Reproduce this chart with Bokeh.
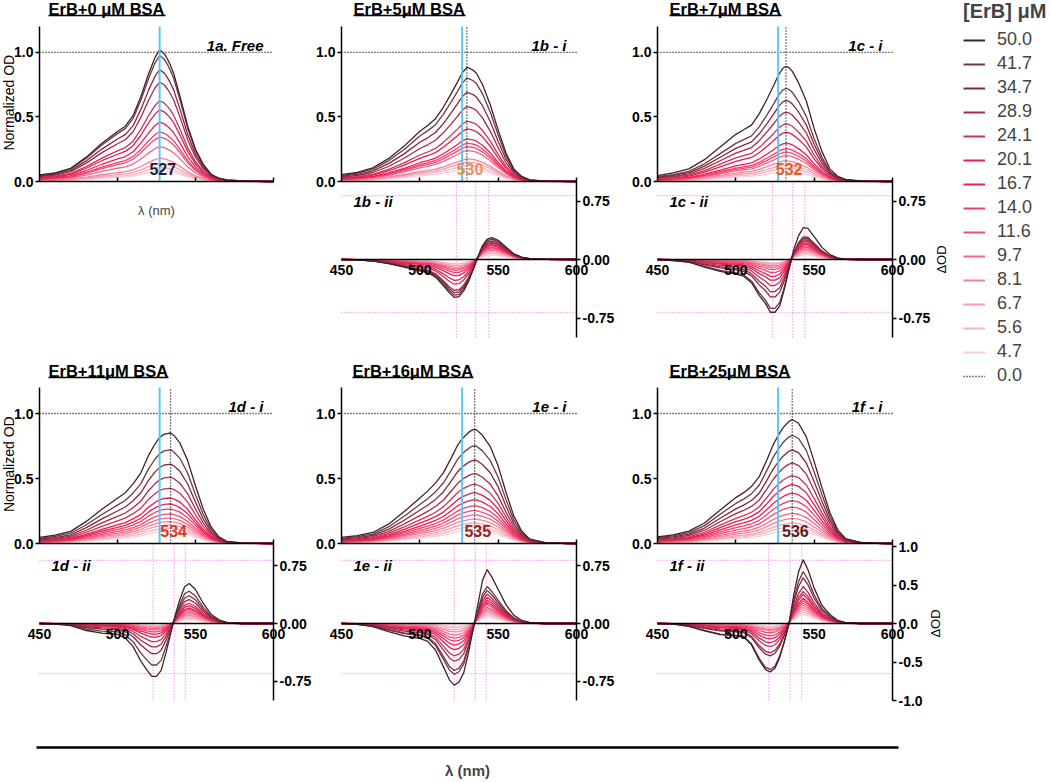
import math
from bokeh.plotting import figure
from bokeh.models import (Range1d, FixedTicker, NumeralTickFormatter, Label, LinearAxis,
                          Legend, LegendItem, CustomLabelingPolicy)
from bokeh.layouts import row, column
from bokeh.embed import file_html
from bokeh.resources import INLINE

FONT = "Liberation Sans"

# ---------------- data ----------------
erb_conc = ["50.0", "41.7", "34.7", "28.9", "24.1", "20.1", "16.7",
            "14.0", "11.6", "9.7", "8.1", "6.7", "5.6", "4.7"]
erb_zero = "0.0"
series_colors = ["#45202a", "#6a3b45", "#86263d", "#a82848", "#c63458", "#e01e4e",
                 "#f01c56", "#f23c6a", "#f24c76", "#f46689", "#f6829c", "#f89db2",
                 "#f9b4c3", "#fbcdd7"]

panel_titles = ["ErB+0 μM BSA", "ErB+5μM BSA", "ErB+7μM BSA",
                "ErB+11μM BSA", "ErB+16μM BSA", "ErB+25μM BSA"]
panel_tags_i = ["1a. Free", "1b - i", "1c - i", "1d - i", "1e - i", "1f - i"]
panel_tags_ii = ["1b - ii", "1c - ii", "1d - ii", "1e - ii", "1f - ii"]
peak_nm = [527, 530, 532, 534, 535, 536]
peak_text = ["527", "530", "532", "534", "535", "536"]
free_peak_nm = 527

# absorption spectra: normalized band shape of each panel and peak OD of each curve
wl_abs = [450, 460, 470, 480, 490, 500, 505, 510, 515, 520, 524, 527, 530, 532, 534,
          536, 540, 545, 550, 555, 560, 565, 570, 580, 590, 600]
shape_1a = [0.05, 0.065, 0.10, 0.185, 0.29, 0.38, 0.42, 0.50, 0.645, 0.82, 0.94, 1.0, 0.97,
            0.93, 0.88, 0.82, 0.65, 0.42, 0.245, 0.13, 0.055, 0.025, 0.012, 0.004, 0.001, 0.0]
shape_1b = [0.06, 0.08, 0.12, 0.20, 0.31, 0.44, 0.49, 0.55, 0.65, 0.77, 0.87, 0.95, 1.0,
            0.99, 0.975, 0.95, 0.85, 0.67, 0.45, 0.25, 0.11, 0.045, 0.015, 0.004, 0.001, 0.0]
shape_1c = [0.052, 0.075, 0.11, 0.19, 0.30, 0.41, 0.45, 0.49, 0.59, 0.72, 0.83, 0.92, 0.985,
            1.0, 0.99, 0.96, 0.86, 0.70, 0.46, 0.26, 0.11, 0.045, 0.018, 0.005, 0.001, 0.0]
shape_1d = [0.055, 0.075, 0.11, 0.20, 0.31, 0.41, 0.46, 0.54, 0.64, 0.80, 0.90, 0.96, 0.99,
            0.995, 1.0, 0.98, 0.91, 0.75, 0.52, 0.31, 0.15, 0.06, 0.02, 0.005, 0.001, 0.0]
shape_1e = [0.053, 0.07, 0.097, 0.17, 0.28, 0.40, 0.46, 0.53, 0.62, 0.75, 0.86, 0.92, 0.96,
            0.985, 1.0, 1.0, 0.95, 0.85, 0.68, 0.45, 0.24, 0.11, 0.04, 0.008, 0.002, 0.0]
shape_1f = [0.054, 0.07, 0.10, 0.165, 0.27, 0.37, 0.41, 0.46, 0.54, 0.68, 0.80, 0.87, 0.93,
            0.96, 0.985, 1.0, 0.97, 0.86, 0.66, 0.45, 0.25, 0.11, 0.04, 0.008, 0.002, 0.0]
erb0_abs = [0.0] * 26

amp_1a = [1.02, 0.975, 0.865, 0.77, 0.625, 0.555, 0.46, 0.385, 0.345, 0.27, 0.18, 0.14, 0.11, 0.085]
amp_1b = [0.884, 0.80, 0.69, 0.58, 0.466, 0.407, 0.33, 0.296, 0.27, 0.24, 0.175, 0.15, 0.124, 0.10]
amp_1c = [0.89, 0.72, 0.626, 0.536, 0.446, 0.38, 0.296, 0.253, 0.227, 0.20, 0.16, 0.13, 0.105, 0.08]
amp_1d = [0.85, 0.72, 0.61, 0.51, 0.425, 0.35, 0.304, 0.265, 0.227, 0.196, 0.168, 0.142, 0.116, 0.093]
amp_1e = [0.876, 0.75, 0.64, 0.536, 0.454, 0.39, 0.335, 0.29, 0.253, 0.22, 0.188, 0.157, 0.13, 0.105]
amp_1f = [0.954, 0.833, 0.72, 0.62, 0.523, 0.454, 0.387, 0.33, 0.28, 0.232, 0.193, 0.157, 0.13, 0.103]

# difference spectra: negative and positive lobe shapes, with depth / height of each curve
wl_diff = [450, 460, 470, 480, 490, 500, 505, 510, 515, 519, 522, 525, 528, 531, 534, 537,
           540, 543, 546, 550, 555, 560, 565, 570, 580, 600]
neg_1b = [0, -0.01, -0.04, -0.11, -0.2, -0.3, -0.34, -0.46, -0.68, -0.88, -0.99, -0.97, -0.82,
          -0.58, -0.3, -0.08, 0, 0, 0, 0, 0, 0, 0, 0, 0, 0]
pos_1b = [0, 0, 0, 0, 0, 0, 0, 0, 0, 0, 0, 0, 0, 0, 0.05, 0.25, 0.64, 0.93, 1.0, 0.88, 0.57,
          0.26, 0.11, 0.04, 0.01, 0]
neg_1c = [0, -0.02, -0.05, -0.14, -0.22, -0.27, -0.31, -0.43, -0.67, -0.82, -0.98, -0.98, -0.86,
          -0.55, -0.2, -0.02, 0, 0, 0, 0, 0, 0, 0, 0, 0, 0]
pos_1c = [0, 0, 0, 0, 0, 0, 0, 0, 0, 0, 0, 0, 0, 0, 0.05, 0.35, 0.72, 0.97, 0.95, 0.7, 0.37,
          0.15, 0.05, 0.01, 0, 0]
neg_1d = [0, -0.01, -0.04, -0.13, -0.18, -0.2, -0.27, -0.43, -0.7, -0.87, -0.98, -0.98, -0.87,
          -0.55, -0.22, -0.03, 0, 0, 0, 0, 0, 0, 0, 0, 0, 0]
pos_1d = [0, 0, 0, 0, 0, 0, 0, 0, 0, 0, 0, 0, 0, 0, 0.03, 0.25, 0.6, 0.92, 1.0, 0.85, 0.5,
          0.23, 0.09, 0.03, 0, 0]
neg_1e = [0, -0.015, -0.05, -0.13, -0.2, -0.24, -0.29, -0.43, -0.7, -0.92, -1.0, -0.95, -0.8,
          -0.48, -0.15, -0.02, 0, 0, 0, 0, 0, 0, 0, 0, 0, 0]
pos_1e = [0, 0, 0, 0, 0, 0, 0, 0, 0, 0, 0, 0, 0, 0, 0.06, 0.37, 0.8, 1.0, 0.86, 0.63, 0.35,
          0.15, 0.06, 0.02, 0, 0]
neg_1f = [0, -0.01, -0.06, -0.15, -0.23, -0.255, -0.28, -0.44, -0.76, -0.95, -1.0, -0.92, -0.7,
          -0.4, -0.12, 0, 0, 0, 0, 0, 0, 0, 0, 0, 0, 0]
pos_1f = [0, 0, 0, 0, 0, 0, 0, 0, 0, 0, 0, 0, 0, 0.02, 0.1, 0.45, 0.8, 0.99, 0.84, 0.55, 0.28,
          0.14, 0.05, 0.015, 0, 0]

negamp_1b = [0.49, 0.46, 0.43, 0.40, 0.32, 0.27, 0.21, 0.17, 0.14, 0.12, 0.10, 0.08, 0.06, 0.05]
posamp_1b = [0.28, 0.26, 0.24, 0.22, 0.21, 0.19, 0.18, 0.16, 0.15, 0.13, 0.12, 0.10, 0.08, 0.06]
negamp_1c = [0.69, 0.64, 0.49, 0.42, 0.34, 0.27, 0.22, 0.17, 0.13, 0.10, 0.08, 0.06, 0.05, 0.04]
posamp_1c = [0.42, 0.30, 0.28, 0.26, 0.24, 0.22, 0.20, 0.18, 0.16, 0.14, 0.12, 0.10, 0.08, 0.06]
negamp_1d = [0.70, 0.55, 0.40, 0.31, 0.24, 0.18, 0.14, 0.11, 0.085, 0.065, 0.05, 0.04, 0.03, 0.025]
posamp_1d = [0.52, 0.42, 0.36, 0.31, 0.26, 0.23, 0.20, 0.18, 0.155, 0.13, 0.11, 0.09, 0.07, 0.05]
negamp_1e = [0.80, 0.66, 0.61, 0.49, 0.42, 0.34, 0.28, 0.23, 0.19, 0.15, 0.11, 0.08, 0.05, 0.035]
posamp_1e = [0.70, 0.48, 0.43, 0.38, 0.34, 0.305, 0.275, 0.245, 0.21, 0.185, 0.16, 0.135, 0.11, 0.085]
negamp_1f = [0.63, 0.60, 0.42, 0.38, 0.30, 0.25, 0.20, 0.16, 0.12, 0.09, 0.075, 0.06, 0.045, 0.03]
posamp_1f = [0.835, 0.68, 0.60, 0.485, 0.42, 0.38, 0.33, 0.30, 0.27, 0.24, 0.21, 0.18, 0.15, 0.12]

guide_nm_1b = [523.4, 535.6, 544.0]
guide_nm_1c = [523.4, 536.3, 544.0]
guide_nm_1d = [522.8, 536.4, 543.5]
guide_nm_1e = [522.0, 535.4, 542.4]
guide_nm_1f = [521.0, 534.6, 542.0]
guide_od_top = [0.82, -0.68]
guide_od_bottom = [0.82, -0.65]

# ---------------- styles ----------------
PEAK_COLORS = ["#1f1f3f", "#e8905e", "#e85a24", "#e0381c", "#9c1c1c", "#5a1c1c"]
BLUE = "#5ac8f0"
PINK = "#f07cf0"
NO_LABELS = CustomLabelingPolicy(code="return new Set()")

# ---------------- page geometry (pixels) ----------------
# column: (fig left, fig right, px of 450 nm, px of 600 nm)
COL = [(0, 313, 39, 273), (313, 625, 341, 576), (625, 963, 657, 892)]
# row: (fig top, fig bottom, px of OD 1.2, px of OD 0, px of dOD 0, px of dOD -1)
ROW = [(0, 356, 26, 181, 259, 337), (356, 728, 387, 543, 623, 700)]
# title: (left px, right px of underline, middle px of text, underline px)
TITLE_PX = [(48, 165, 8, 15), (353, 465, 8, 15), (669, 781, 8, 15),
            (48, 168, 370, 377), (352, 473, 370, 377), (669, 790, 370, 377)]


def axis_style(ax, size="14px"):
    ax.axis_line_color = "black"
    ax.axis_line_width = 1.5
    ax.major_tick_line_color = "black"
    ax.major_tick_line_width = 1.5
    ax.minor_tick_line_color = None
    ax.major_label_text_font = FONT
    ax.major_label_text_font_size = size
    ax.major_label_text_font_style = "bold"
    ax.major_label_text_color = "black"


def make_panel(k, shape, amps, col, geom, tpx, diff=None, ylab=False, xlab=False):
    L, R, X0, X1 = col
    T, B, P12, P0, Pd0, Pdm1 = geom
    kx = 150.0 / (X1 - X0)
    ky = 1.2 / (P0 - P12)
    p = figure(width=R - L, height=B - T,
               x_range=Range1d(450 - (X0 - L) * kx, 600 + (R - X1) * kx),
               y_range=Range1d(-(B - P0) * ky, 1.2 + (P12 - T) * ky),
               x_axis_type=None, y_axis_type=None,
               output_backend="svg", toolbar_location=None, min_border=0)
    p.outline_line_color = None
    p.background_fill_color = "white"
    p.border_fill_color = "white"

    # ----- difference spectra (lower part, own scale "d") -----
    if diff is not None:
        dk, neg, pos, namps, pamps, guides, guide_od, yticks, yfmt, dod_px = diff
        kd = 1.0 / (Pdm1 - Pd0)
        p.extra_y_ranges = {"d": Range1d(-1.0 - (B - Pdm1) * kd, (Pd0 - T) * kd)}
        ax_top = (Pd0 - P0) * kd
        for g in guides:
            p.segment(x0=[g], y0=[-1.0], x1=[g], y1=[ax_top], line_color=PINK,
                      line_dash="1 2", line_width=1.2, y_range_name="d")
        for g in guide_od:
            p.segment(x0=[450], y0=[g], x1=[600], y1=[g], line_color=PINK,
                      line_dash="1 2", line_width=1.2, y_range_name="d")
        for j in reversed(range(len(namps))):
            ys = [n * namps[j] + q * pamps[j] for n, q in zip(neg, pos)]
            p.line(wl_diff, ys, line_color=series_colors[j], line_width=1.3,
                   y_range_name="d")
        dx = LinearAxis(fixed_location=0, bounds=(450, 600), y_range_name="d",
                        ticker=FixedTicker(ticks=[450, 500, 550, 600]))
        axis_style(dx)
        dx.major_tick_in = 0
        dx.major_tick_out = 0
        dx.major_label_standoff = 5
        p.add_layout(dx, "below")
        dy = LinearAxis(fixed_location=600, bounds=(-1.0, ax_top), y_range_name="d",
                        ticker=FixedTicker(ticks=yticks),
                        formatter=NumeralTickFormatter(format=yfmt))
        axis_style(dy)
        dy.major_tick_out = 4
        dy.major_tick_in = 0
        dy.major_label_standoff = 2
        p.add_layout(dy, "right")
        p.add_layout(Label(x=450, y=0, x_offset=12, y_offset=58, y_range_name="d",
                           text=panel_tags_ii[dk], text_align="left", text_baseline="middle",
                           text_font=FONT, text_font_size="15px",
                           text_font_style="bold italic", text_color="black"))
        if dod_px is not None:
            p.add_layout(Label(x=600, y=0, x_offset=dod_px, y_range_name="d", text="ΔOD",
                               angle=math.pi / 2, text_align="center",
                               text_baseline="middle", text_font=FONT,
                               text_font_size="13px", text_color="black"))

    # ----- absorption spectra (upper part) -----
    p.segment(x0=[450], y0=[1.0], x1=[600], y1=[1.0], line_color="black",
              line_dash="1 2", line_width=1.3)
    p.line(wl_abs, erb0_abs, line_color="black", line_dash="1 2", line_width=1.2)
    for j in reversed(range(len(amps))):
        p.line(wl_abs, [s * amps[j] for s in shape], line_color=series_colors[j],
               line_width=1.3)
    if peak_nm[k] != free_peak_nm:
        p.segment(x0=[peak_nm[k]], y0=[0], x1=[peak_nm[k]], y1=[1.2], line_color="black",
                  line_dash="1 2", line_width=1.3)
    p.segment(x0=[free_peak_nm], y0=[0], x1=[free_peak_nm], y1=[1.2], line_color=BLUE,
              line_width=2)

    yax = LinearAxis(fixed_location=450, bounds=(0, 1.2), ticker=FixedTicker(ticks=[0, 0.5, 1.0]),
                     formatter=NumeralTickFormatter(format="0.0"))
    axis_style(yax)
    yax.major_tick_out = 4
    yax.major_tick_in = 0
    yax.major_label_standoff = 2
    p.add_layout(yax, "left")
    xax = LinearAxis(fixed_location=0, bounds=(450, 600), ticker=FixedTicker(ticks=[500, 550, 600]),
                     major_label_policy=NO_LABELS)
    axis_style(xax)
    xax.major_tick_in = 4
    xax.major_tick_out = 0
    if xlab:
        xax.axis_label = "λ (nm)"
        xax.axis_label_text_font = FONT
        xax.axis_label_text_font_size = "13px"
        xax.axis_label_text_font_style = "normal"
        xax.axis_label_standoff = 3
    p.add_layout(xax, "below")

    p.add_layout(Label(x=peak_nm[k] + 2, y=0.1, text=peak_text[k], text_align="center",
                       text_baseline="middle", text_font=FONT, text_font_size="16px",
                       text_font_style="bold", text_color=PEAK_COLORS[k]))
    p.add_layout(Label(x=600, y=1.0, x_offset=-10, y_offset=7, text=panel_tags_i[k],
                       text_align="right", text_baseline="middle", text_font=FONT,
                       text_font_size="15px", text_font_style="bold italic",
                       text_color="black"))
    tx0, tx1, tmid, tul = tpx
    p.add_layout(Label(x=450, y=1.2, x_offset=tx0 - X0, y_offset=P12 - tmid,
                       text=panel_titles[k], text_align="left", text_baseline="middle",
                       text_font=FONT, text_font_size="16.5px", text_font_style="bold",
                       text_color="black"))
    uy = 1.2 + (P12 - tul) * ky
    p.segment(x0=[450 + (tx0 - X0) * kx], y0=[uy], x1=[450 + (tx1 - X0) * kx], y1=[uy],
              line_color="black", line_width=1.5)
    if ylab:
        p.add_layout(Label(x=450, y=0.61, x_offset=-31, text="Normalized OD",
                           angle=math.pi / 2, text_align="center", text_baseline="middle",
                           text_font=FONT, text_font_size="14px", text_color="black"))
    return p


T75 = [-0.75, 0, 0.75]
T10 = [-1, -0.5, 0, 0.5, 1]
f1a = make_panel(0, shape_1a, amp_1a, COL[0], ROW[0], TITLE_PX[0], ylab=True, xlab=True)
f1b = make_panel(1, shape_1b, amp_1b, COL[1], ROW[0], TITLE_PX[1],
                 diff=(0, neg_1b, pos_1b, negamp_1b, posamp_1b, guide_nm_1b, guide_od_top,
                       T75, "0.00", None))
f1c = make_panel(2, shape_1c, amp_1c, COL[2], ROW[0], TITLE_PX[2],
                 diff=(1, neg_1c, pos_1c, negamp_1c, posamp_1c, guide_nm_1c, guide_od_top,
                       T75, "0.00", 49))
f1d = make_panel(3, shape_1d, amp_1d, COL[0], ROW[1], TITLE_PX[3], ylab=True,
                 diff=(2, neg_1d, pos_1d, negamp_1d, posamp_1d, guide_nm_1d, guide_od_bottom,
                       T75, "0.00", None))
f1e = make_panel(4, shape_1e, amp_1e, COL[1], ROW[1], TITLE_PX[4],
                 diff=(3, neg_1e, pos_1e, negamp_1e, posamp_1e, guide_nm_1e, guide_od_bottom,
                       T75, "0.00", None))
f1f = make_panel(5, shape_1f, amp_1f, COL[2], ROW[1], TITLE_PX[5],
                 diff=(4, neg_1f, pos_1f, negamp_1f, posamp_1f, guide_nm_1f, guide_od_bottom,
                       T10, "0.0", 43))

# legend panel (its renderers lie outside its view; only the legend is seen)
leg = figure(width=86, height=400, x_range=Range1d(0, 1), y_range=Range1d(0, 1),
             x_axis_type=None, y_axis_type=None, output_backend="svg",
             toolbar_location=None, min_border=0)
leg.outline_line_color = None
items = []
for j, lab in enumerate(erb_conc):
    r = leg.line(wl_abs, [s * amp_1c[j] for s in shape_1c], line_color=series_colors[j],
                 line_width=2)
    items.append(LegendItem(label=lab, renderers=[r]))
r0 = leg.line(wl_abs, erb0_abs, line_color="black", line_dash="1 2", line_width=1.5)
items.append(LegendItem(label=erb_zero, renderers=[r0]))
legend = Legend(items=items, title="[ErB] μM", location="top_left", margin=0, padding=0,
                spacing=3, glyph_width=22, glyph_height=20, label_height=20,
                label_standoff=12, label_text_font=FONT, label_text_font_size="18px",
                title_text_font=FONT, title_text_font_size="20px",
                title_text_font_style="bold", title_standoff=6,
                border_line_color=None, background_fill_alpha=0)
leg.add_layout(legend)

# common wavelength axis at the bottom
bot = figure(width=1049, height=53, x_range=Range1d(450, 600), y_range=Range1d(0, 1),
             x_axis_type=None, y_axis_type=None, output_backend="svg", toolbar_location=None,
             min_border_left=36, min_border_right=151, min_border_top=19, min_border_bottom=34)
bot.outline_line_color = None
bax = LinearAxis(ticker=FixedTicker(ticks=[]))
bax.axis_line_width = 2.5
bax.axis_line_color = "black"
bax.major_tick_line_color = None
bax.minor_tick_line_color = None
bax.axis_label = "λ (nm)"
bax.axis_label_text_font = FONT
bax.axis_label_text_font_size = "15px"
bax.axis_label_text_font_style = "bold"
bax.axis_label_standoff = 14
bot.add_layout(bax, "below")

col1 = column(f1a, f1d)
col2 = column(f1b, f1e)
col3 = column(f1c, f1f)
layout = column(row(col1, col2, col3, leg), bot)

open("out.html", "w").write(file_html(layout, INLINE, title="ErB BSA spectra"))
